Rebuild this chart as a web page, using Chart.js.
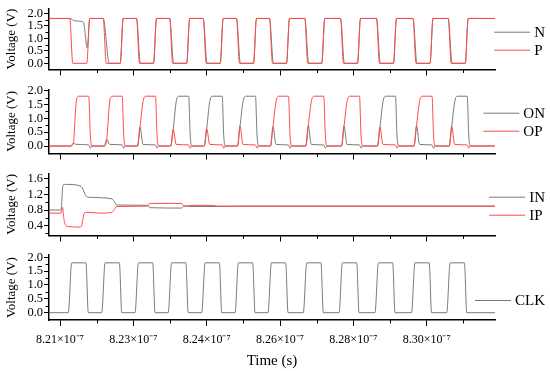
<!DOCTYPE html>
<html>
<head>
<meta charset="utf-8">
<script src="https://cdn.jsdelivr.net/npm/chart.js@4.4.1/dist/chart.umd.min.js"></script>
<style>
  html, body { margin: 0; padding: 0; background: #fff; }
  #wrap { position: relative; width: 550px; height: 371px; }
  #wrap canvas { position: absolute; left: 0; }
</style>
</head>
<body>
<div id="wrap">
  <canvas id="p1" width="550" height="80" style="top:0px"></canvas>
  <canvas id="p2" width="550" height="82" style="top:80px"></canvas>
  <canvas id="p3" width="550" height="82" style="top:162px"></canvas>
  <canvas id="p4" width="550" height="127" style="top:244px"></canvas>
</div>
<script>
// time axis in ns, voltages in V
const timeMin = 820.745, timeMax = 831.084;
const timeTicks = [821.0, 822.7, 824.4, 826.1, 827.8, 829.5];
const timeMinor = [821.85, 823.55, 825.25, 826.95, 828.65, 830.35];
const timeLabels = ['8.21×10⁻⁷', '8.23×10⁻⁷', '8.24×10⁻⁷', '8.26×10⁻⁷', '8.28×10⁻⁷', '8.30×10⁻⁷'];

const voltTicks = [0, 0.5, 1, 1.5, 2];
const voltMinor = [0.25, 0.75, 1.25, 1.75];
const inTicks = [0.4, 0.8, 1.2, 1.6];
const inMinor = [0.2, 0.6, 1.0, 1.4];

// panel 1
const nWave = [
  [820.745,1.8],
  [821.227,1.8],[821.348,1.70],[821.540,1.66],[821.633,0.62],[821.690,1.8],
  [822.002,1.8],[822.143,0],[822.396,0],[822.465,1.8],
  [822.774,1.8],[822.864,0],[823.168,0],[823.237,1.8],
  [823.543,1.8],[823.633,0],[823.937,0],[824.006,1.8],
  [824.320,1.8],[824.410,0],[824.714,0],[824.783,1.8],
  [825.092,1.8],[825.182,0],[825.486,0],[825.555,1.8],
  [825.857,1.8],[825.947,0],[826.251,0],[826.320,1.8],
  [826.675,1.8],[826.765,0],[827.069,0],[827.138,1.8],
  [827.503,1.8],[827.593,0],[827.897,0],[827.966,1.8],
  [828.337,1.8],[828.427,0],[828.731,0],[828.800,1.8],
  [829.184,1.8],[829.274,0],[829.578,0],[829.647,1.8],
  [830.000,1.8],[830.090,0],[830.394,0],[830.463,1.8],
  [831.084,1.8]
];
const pWave = [
  [820.745,1.8],
  [821.227,1.8],[821.296,0],[821.621,0],[821.690,1.8],
  [822.002,1.8],[822.071,0],[822.396,0],[822.465,1.8],
  [822.774,1.8],[822.843,0],[823.168,0],[823.237,1.8],
  [823.543,1.8],[823.612,0],[823.937,0],[824.006,1.8],
  [824.320,1.8],[824.389,0],[824.714,0],[824.783,1.8],
  [825.092,1.8],[825.161,0],[825.486,0],[825.555,1.8],
  [825.857,1.8],[825.926,0],[826.251,0],[826.320,1.8],
  [826.675,1.8],[826.744,0],[827.069,0],[827.138,1.8],
  [827.503,1.8],[827.572,0],[827.897,0],[827.966,1.8],
  [828.337,1.8],[828.406,0],[828.731,0],[828.800,1.8],
  [829.184,1.8],[829.253,0],[829.578,0],[829.647,1.8],
  [830.000,1.8],[830.069,0],[830.394,0],[830.463,1.8],
  [831.084,1.8]
];

// panel 2
const onWave = [
  [820.745,0],
  [821.250,0],[821.308,0.10],[821.377,0.06],[821.667,0.04],[821.702,-0.08],[821.737,0],
  [822.025,0],[822.083,0.24],[822.152,0.06],[822.442,0.04],[822.477,-0.08],[822.512,0],
  [822.797,0],[822.855,0.69],[822.924,0.06],[823.214,0.04],[823.249,-0.08],[823.284,0],
  [823.566,0],[823.624,0.60],[823.693,1.6],[823.751,1.8],[823.983,1.8],[824.018,0.4],[824.053,0],
  [824.343,0],[824.401,0.63],[824.470,1.6],[824.528,1.8],[824.760,1.8],[824.795,0.4],[824.830,0],
  [825.115,0],[825.173,0.72],[825.242,1.6],[825.300,1.8],[825.532,1.8],[825.567,0.4],[825.602,0],
  [825.880,0],[825.938,0.70],[826.007,0.06],[826.297,0.04],[826.332,-0.08],[826.367,0],
  [826.698,0],[826.756,0.74],[826.825,0.06],[827.115,0.04],[827.150,-0.08],[827.185,0],
  [827.526,0],[827.584,0.72],[827.653,0.06],[827.943,0.04],[827.978,-0.08],[828.013,0],
  [828.360,0],[828.418,0.69],[828.487,1.6],[828.545,1.8],[828.777,1.8],[828.812,0.4],[828.847,0],
  [829.207,0],[829.265,0.73],[829.334,0.06],[829.624,0.04],[829.659,-0.08],[829.694,0],
  [830.023,0],[830.081,0.71],[830.150,1.6],[830.208,1.8],[830.440,1.8],[830.475,0.4],[830.510,0],
  [831.084,0]
];
const opWave = [
  [820.745,0],
  [821.250,0],[821.308,0.10],[821.377,1.6],[821.435,1.8],[821.667,1.8],[821.702,0.4],[821.737,0],
  [822.025,0],[822.083,0.24],[822.152,1.6],[822.210,1.8],[822.442,1.8],[822.477,0.4],[822.512,0],
  [822.797,0],[822.855,0.69],[822.924,1.6],[822.982,1.8],[823.214,1.8],[823.249,0.4],[823.284,0],
  [823.566,0],[823.624,0.60],[823.693,0.06],[823.983,0.04],[824.018,-0.08],[824.053,0],
  [824.343,0],[824.401,0.63],[824.470,0.06],[824.760,0.04],[824.795,-0.08],[824.830,0],
  [825.115,0],[825.173,0.72],[825.242,0.06],[825.532,0.04],[825.567,-0.08],[825.602,0],
  [825.880,0],[825.938,0.70],[826.007,1.6],[826.065,1.8],[826.297,1.8],[826.332,0.4],[826.367,0],
  [826.698,0],[826.756,0.74],[826.825,1.6],[826.883,1.8],[827.115,1.8],[827.150,0.4],[827.185,0],
  [827.526,0],[827.584,0.72],[827.653,1.6],[827.711,1.8],[827.943,1.8],[827.978,0.4],[828.013,0],
  [828.360,0],[828.418,0.69],[828.487,0.06],[828.777,0.04],[828.812,-0.08],[828.847,0],
  [829.207,0],[829.265,0.73],[829.334,1.6],[829.392,1.8],[829.624,1.8],[829.659,0.4],[829.694,0],
  [830.023,0],[830.081,0.71],[830.150,0.06],[830.440,0.04],[830.475,-0.08],[830.510,0],
  [831.084,0]
];

// panel 3
const inWave = [
  [820.745,0.80],[821.023,0.80],[821.070,1.44],[821.155,1.46],[821.464,1.42],[821.510,1.38],
  [821.603,1.16],[821.672,1.13],[822.199,1.09],[822.240,1.05],[822.314,0.93],[823.028,0.92],
  [823.086,0.86],[823.821,0.85],[823.875,0.90],[824.083,0.89],[824.547,0.89],[825.405,0.90],
  [831.084,0.90]
];
const ipWave = [
  [820.745,0.72],[821.023,0.72],[821.058,0.87],[821.093,0.55],[821.155,0.38],[821.464,0.36],
  [821.503,0.40],[821.556,0.70],[821.603,0.74],[821.927,0.72],[822.199,0.74],[822.240,0.78],
  [822.314,0.89],[823.028,0.90],[823.086,0.97],[823.821,0.97],[823.875,0.90],[824.083,0.92],
  [824.547,0.92],[824.650,0.90],[831.084,0.90]
];

// panel 4
const clkWave = [
  [820.745,0],
  [821.192,0],[821.271,1.8],[821.602,1.8],[821.656,0],
  [821.967,0],[822.046,1.8],[822.377,1.8],[822.431,0],
  [822.739,0],[822.818,1.8],[823.149,1.8],[823.203,0],
  [823.508,0],[823.587,1.8],[823.918,1.8],[823.972,0],
  [824.285,0],[824.364,1.8],[824.695,1.8],[824.749,0],
  [825.057,0],[825.136,1.8],[825.467,1.8],[825.521,0],
  [825.822,0],[825.901,1.8],[826.232,1.8],[826.286,0],
  [826.640,0],[826.719,1.8],[827.050,1.8],[827.104,0],
  [827.468,0],[827.547,1.8],[827.878,1.8],[827.932,0],
  [828.302,0],[828.381,1.8],[828.712,1.8],[828.766,0],
  [829.149,0],[829.228,1.8],[829.559,1.8],[829.613,0],
  [829.965,0],[830.044,1.8],[830.375,1.8],[830.429,0],
  [831.084,0]
];

const GRAY = '#7a7a7a';
const RED = '#ff4a4a';
const serif = "'Liberation Serif', 'Times New Roman', serif";

// minor ticks + Origin-style legend on the right
const extras = {
  id: 'extras',
  afterDraw(chart, args, opts) {
    const ctx = chart.ctx;
    const { left, bottom } = chart.chartArea;
    const xs = chart.scales.x, ys = chart.scales.y;
    ctx.save();
    ctx.strokeStyle = '#000';
    ctx.lineWidth = 1;
    ctx.beginPath();
    timeMinor.forEach(t => {
      const px = Math.round(xs.getPixelForValue(t)) + 0.5;
      ctx.moveTo(px, bottom);
      ctx.lineTo(px, bottom + 3.5);
    });
    opts.yMinor.forEach(v => {
      if (v < ys.min || v > ys.max) return;
      const py = Math.round(ys.getPixelForValue(v)) + 0.5;
      ctx.moveTo(left - 3.5, py);
      ctx.lineTo(left, py);
    });
    ctx.stroke();

    ctx.font = '15px ' + serif;
    ctx.textBaseline = 'middle';
    const sets = chart.data.datasets;
    const maxW = Math.max(...sets.map(d => ctx.measureText(d.label).width));
    const textX = 545 - maxW;
    sets.forEach((d, i) => {
      const y = opts.legendY + i * 18;
      ctx.strokeStyle = d.borderColor;
      ctx.beginPath();
      ctx.moveTo(textX - 40, y + 0.5);
      ctx.lineTo(textX - 4, y + 0.5);
      ctx.stroke();
      ctx.fillStyle = '#000';
      ctx.fillText(d.label, textX, y + 1);
    });
    ctx.restore();
  }
};

function lineSet(label, wave, color, order) {
  return {
    label: label,
    order: order,
    data: wave.map(([x, y]) => ({ x: x, y: y })),
    borderColor: color,
    borderWidth: 1,
    pointRadius: 0,
    cubicInterpolationMode: 'monotone',
    fill: false
  };
}

function makePanel(id, sets, p) {
  const canvas = document.getElementById(id);
  new Chart(canvas, {
    type: 'line',
    data: { datasets: sets },
    options: {
      responsive: false,
      animation: false,
      events: [],
      layout: { padding: { left: 0, right: 55, top: p.top, bottom: 0 } },
      plugins: {
        legend: { display: false },
        tooltip: { enabled: false },
        extras: { yMinor: p.yMinor, legendY: p.legendY }
      },
      scales: {
        x: {
          type: 'linear',
          min: timeMin,
          max: timeMax,
          afterBuildTicks: s => { s.ticks = timeTicks.map(v => ({ value: v })); },
          afterFit: s => { s.height = canvas.height - p.bottom; },
          border: { color: '#000', width: 1.5 },
          grid: { drawOnChartArea: false, tickLength: 6, tickColor: '#000', tickWidth: 1 },
          ticks: {
            display: p.labels,
            autoSkip: false,
            maxRotation: 0,
            padding: 7,
            color: '#000',
            font: { family: serif, size: 12 },
            callback: (v, i) => timeLabels[i]
          },
          title: {
            display: p.labels,
            text: 'Time (s)',
            color: '#000',
            font: { family: serif, size: 15 },
            padding: { top: 0, bottom: 1 }
          }
        },
        y: {
          min: p.yMin,
          max: p.yMax,
          afterBuildTicks: s => { s.ticks = p.yTicks.map(v => ({ value: v })); },
          afterFit: s => { s.width = 49; },
          border: { color: '#000', width: 1.5 },
          grid: { drawOnChartArea: false, tickLength: 5, tickColor: '#000', tickWidth: 1 },
          ticks: {
            autoSkip: false,
            padding: 1,
            color: '#000',
            font: { family: serif, size: 12.5 },
            callback: v => v.toFixed(1)
          },
          title: {
            display: true,
            text: 'Voltage (V)',
            color: '#000',
            font: { family: serif, size: 13 },
            padding: { top: 4, bottom: 0 }
          }
        }
      }
    },
    plugins: [extras]
  });
}

makePanel('p1', [lineSet('N', nWave, GRAY, 1), lineSet('P', pWave, RED, 0)],
  { top: 8.3, bottom: 69.5, yMin: -0.248, yMax: 2.2, yTicks: voltTicks, yMinor: voltMinor, legendY: 31.7, labels: false });
makePanel('p2', [lineSet('ON', onWave, GRAY, 1), lineSet('OP', opWave, RED, 0)],
  { top: 9.3, bottom: 73.5, yMin: -0.27, yMax: 2.05, yTicks: voltTicks, yMinor: voltMinor, legendY: 32.7, labels: false });
makePanel('p3', [lineSet('IN', inWave, GRAY, 1), lineSet('IP', ipWave, RED, 0)],
  { top: 11.3, bottom: 73.7, yMin: 0.143, yMax: 1.746, yTicks: inTicks, yMinor: inMinor, legendY: 34.7, labels: false });
makePanel('p4', [lineSet('CLK', clkWave, GRAY, 0)],
  { top: 11, bottom: 76, yMin: -0.264, yMax: 2.083, yTicks: voltTicks, yMinor: voltMinor, legendY: 56, labels: true });
</script>
</body>
</html>
